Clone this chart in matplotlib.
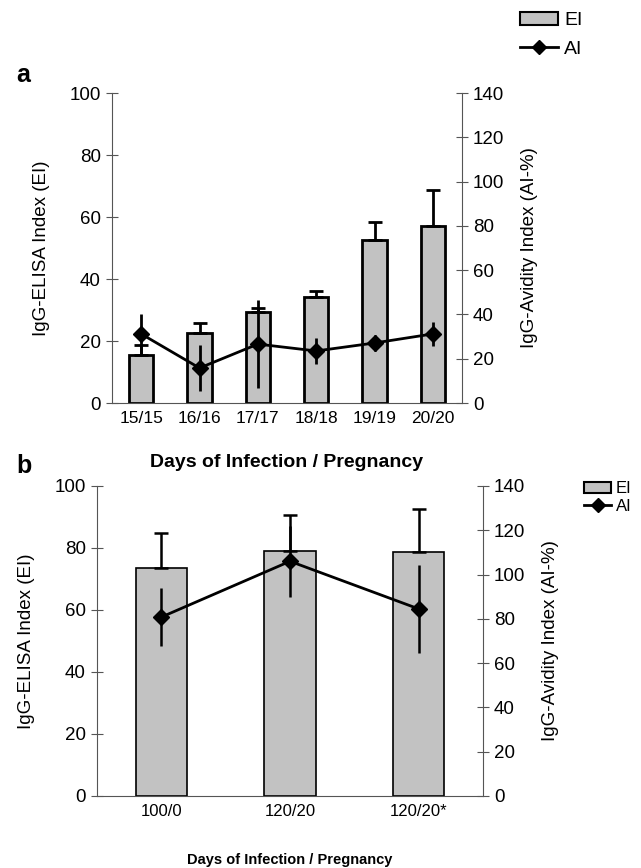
import matplotlib
matplotlib.use("Agg")
import matplotlib.pyplot as plt
from matplotlib.patches import Patch
from matplotlib.lines import Line2D

plt.rcParams['font.family'] = ['Liberation Sans', 'DejaVu Sans']

# Panel a data
cats_a = ["15/15", "16/16", "17/17", "18/18", "19/19", "20/20"]
ei_a = [15.5, 22.6, 29.4, 34.2, 52.6, 57.1]
ei_err_a = [3.2, 3.2, 1.2, 1.9, 5.8, 11.6]
ai_a = [31.2, 15.8, 26.6, 23.5, 27.1, 31.2]
ai_err_a = [9.0, 10.4, 20.0, 6.0, 3.5, 5.5]

# Panel b data
cats_b = ["100/0", "120/20", "120/20*"]
ei_b = [73.5, 79.0, 78.7]
ei_err_b = [11.3, 11.6, 13.9]
ai_b = [80.8, 106.0, 84.5]
ai_err_b = [13.0, 16.0, 20.0]

xlabel = "Days of Infection / Pregnancy"
ylabel_l = "IgG-ELISA Index (EI)"
ylabel_r = "IgG-Avidity Index (AI-%)"

W, H = 641, 868
fig = plt.figure(figsize=(W / 100, H / 100), dpi=100)

def rect(l, r, t, b):
    return [l / W, 1 - b / H, (r - l) / W, (b - t) / H]

bar_color = "#c2c2c2"
spine_c = "#555555"

def panel(axrect, cats, ei, ei_err, ai, ai_err, bw, blw, elw, tick_fs, xl_fs, xl_pad):
    ax = fig.add_axes(axrect)
    x = list(range(len(cats)))
    ax.bar(x, ei, width=bw, color=bar_color, edgecolor="black", linewidth=blw, zorder=2)
    ax.errorbar(x, ei, yerr=[[0] * len(ei), ei_err], fmt="none", ecolor="black",
                elinewidth=elw, capsize=5, capthick=elw, zorder=3)
    ax.set_xlim(-0.5, len(cats) - 0.5)
    ax.set_ylim(0, 100)
    ax.set_yticks([0, 20, 40, 60, 80, 100])
    ax.set_xticks(x)
    ax.set_xticklabels(cats, fontsize=tick_fs)
    ax.tick_params(axis="x", length=0, pad=6)
    ax.tick_params(axis="y", direction="inout", length=8, width=0.8, color=spine_c,
                   labelsize=13.5, pad=4)
    ax.set_ylabel(ylabel_l, fontsize=13.5, labelpad=14)
    ax.set_xlabel(xlabel, fontsize=xl_fs, fontweight="bold", labelpad=xl_pad)
    for s in ["top", "right"]:
        ax.spines[s].set_visible(False)
    for s in ["left", "bottom"]:
        ax.spines[s].set_color(spine_c)
        ax.spines[s].set_linewidth(0.8)

    ax2 = ax.twinx()
    ax2.errorbar(x, ai, yerr=ai_err, fmt="none", ecolor="black", elinewidth=elw, capsize=0, zorder=3)
    ax2.plot(x, ai, color="black", linewidth=2, marker="D", markersize=8, zorder=4)
    ax2.set_ylim(0, 140)
    ax2.set_yticks([0, 20, 40, 60, 80, 100, 120, 140])
    ax2.tick_params(axis="y", direction="inout", length=8, width=0.8, color=spine_c,
                    labelsize=13.5, pad=4)
    ax2.set_ylabel(ylabel_r, fontsize=13.5, labelpad=12)
    for s in ["top", "left", "bottom"]:
        ax2.spines[s].set_visible(False)
    ax2.spines["right"].set_color(spine_c)
    ax2.spines["right"].set_linewidth(0.8)
    return ax, ax2

panel(rect(112, 462, 93, 403), cats_a, ei_a, ei_err_a, ai_a, ai_err_a,
      bw=0.42, blw=2.0, elw=2.0, tick_fs=12.5, xl_fs=14, xl_pad=20)
panel(rect(97, 483, 486, 796), cats_b, ei_b, ei_err_b, ai_b, ai_err_b,
      bw=0.40, blw=1.2, elw=1.8, tick_fs=12, xl_fs=10.5, xl_pad=24)

fig.text(16 / W, 1 - 75 / H, "a", fontsize=18, fontweight="bold", va="center")
fig.text(16 / W, 1 - 466 / H, "b", fontsize=18, fontweight="bold", va="center")

handles = [Patch(facecolor=bar_color, edgecolor="black", linewidth=1.5),
           Line2D([0], [0], color="black", linewidth=2, marker="D", markersize=7)]
fig.legend(handles, ["EI", "AI"], loc="upper left", bbox_to_anchor=(510 / W, 1 - 2 / H),
           frameon=False, fontsize=14, borderpad=0, handlelength=1.95,
           handletextpad=0.35, labelspacing=0.55)
fig.legend(handles, ["EI", "AI"], loc="upper left", bbox_to_anchor=(576 / W, 1 - 473 / H),
           frameon=False, fontsize=12, borderpad=0, handlelength=1.6,
           handletextpad=0.3, labelspacing=0.15)

fig.savefig("out.png", dpi=100)
